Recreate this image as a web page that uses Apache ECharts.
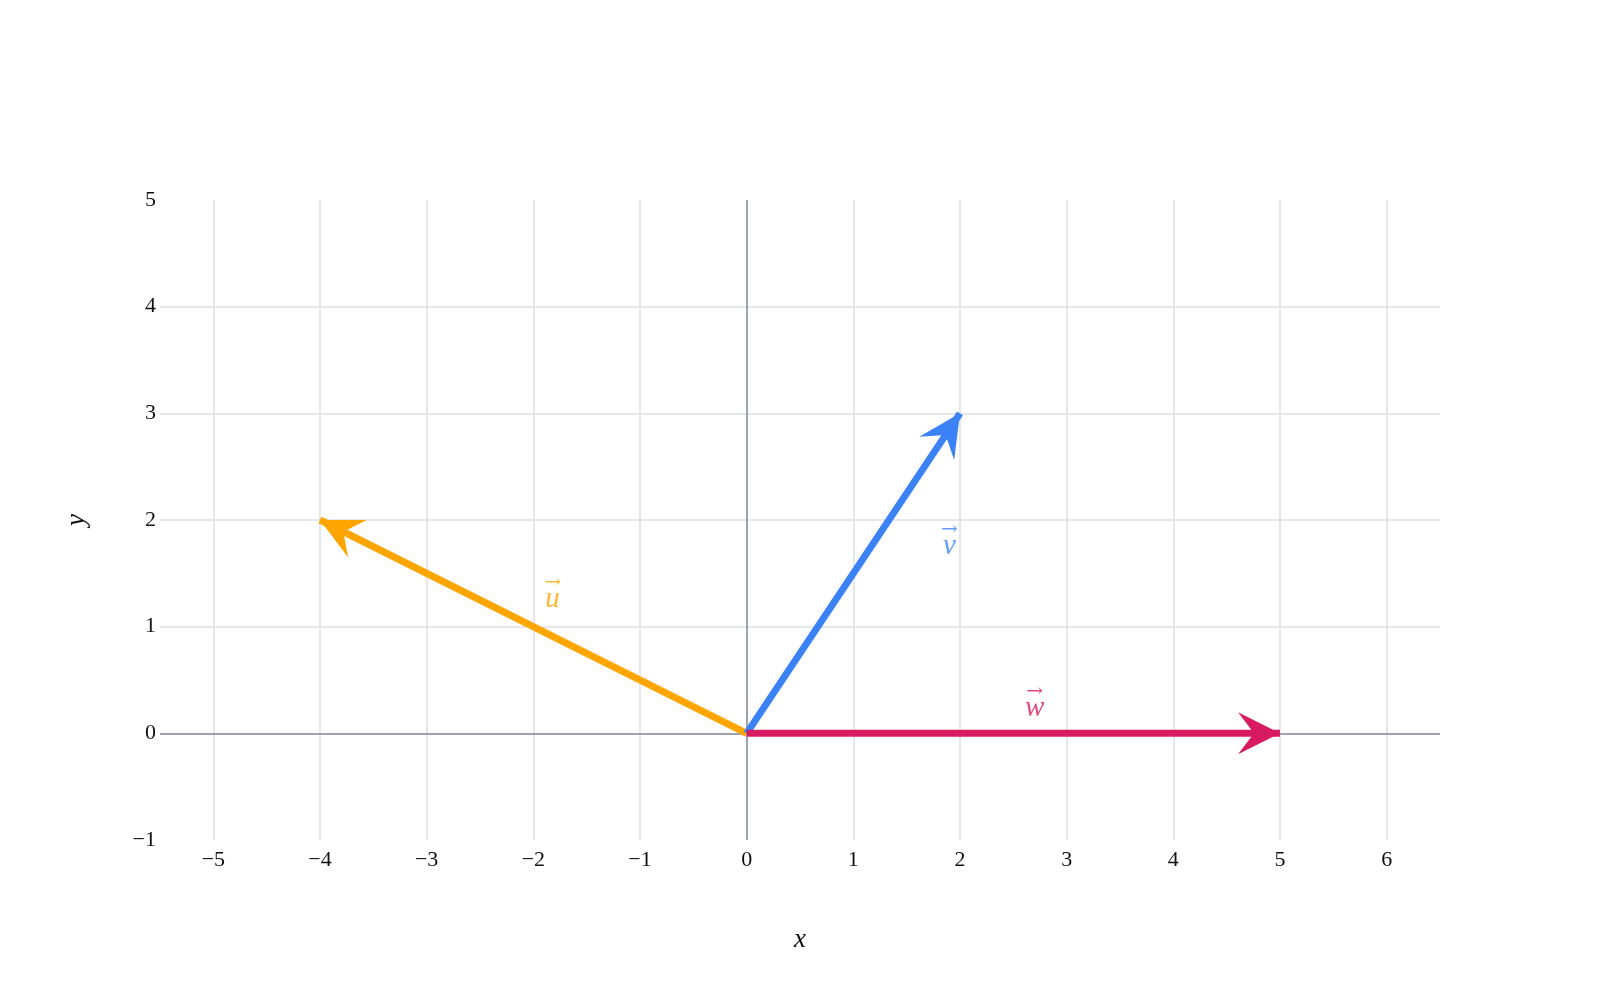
<!DOCTYPE html>
<html lang="en">

<head>
    <meta charset="UTF-8">
    <title>Vectors</title>
    <script src="https://cdn.jsdelivr.net/npm/echarts@6/dist/echarts.min.js"></script>
    <style>
        html, body { margin: 0; padding: 0; background: #fff; }
    </style>
</head>

<body>
    <div id="main" style="width: 1600px;height:1000px;"></div>
    <script type="text/javascript">
        // vectors, all starting at the origin
        var vecNames = ['u', 'v', 'w']
        var vecX = [-4, 2, 5]
        var vecY = [2, 3, 0]
        // where the name labels sit (data units)
        var labelX = [-1.82, 1.9, 2.7]
        var labelY = [1.3, 1.8, 0.28]
        // axis ranges
        var xRange = [-5.5, 6.5]
        var yRange = [-1, 5]

        var colors = ['#ffa500', '#3b82f6', '#d81b60']
        var serif = '"Liberation Serif", "DejaVu Serif", serif'

        var myChart = echarts.init(document.getElementById('main'))

        var tickFmt = v => {
            if (Math.round(v) !== v) return ''
            return v < 0 ? '\u2212' + Math.abs(v) : String(v)
        }

        var arrowData = vecNames.map((n, i) => ({
            value: [0, 0, vecX[i], vecY[i]],
            itemStyle: { color: colors[i] }
        }))

        var labelData = vecNames.map((n, i) => ({
            name: n,
            value: [labelX[i], labelY[i]],
            label: { color: colors[i] }
        }))

        // shaft + barbed head, drawn in pixel space
        var drawArrow = (params, api) => {
            var p0 = api.coord([api.value(0), api.value(1)])
            var p1 = api.coord([api.value(2), api.value(3)])
            var color = api.visual('color')
            var dx = p1[0] - p0[0], dy = p1[1] - p0[1]
            var len = Math.sqrt(dx * dx + dy * dy)
            var ux = dx / len, uy = dy / len
            var nx = -uy, ny = ux
            var L = 42, W = 21, N = 26
            var back = [p1[0] - ux * L, p1[1] - uy * L]
            var inner = [p1[0] - ux * N, p1[1] - uy * N]
            return {
                type: 'group',
                children: [{
                    type: 'line',
                    shape: { x1: p0[0], y1: p0[1], x2: p1[0], y2: p1[1] },
                    style: { stroke: color, lineWidth: 7, lineCap: 'butt' }
                }, {
                    type: 'polygon',
                    shape: {
                        points: [
                            p1,
                            [back[0] + nx * W, back[1] + ny * W],
                            inner,
                            [back[0] - nx * W, back[1] - ny * W]
                        ]
                    },
                    style: { fill: color }
                }]
            }
        }

        var option = {
            animation: false,
            grid: { left: 160, right: 160, top: 200, bottom: 160 },
            xAxis: {
                type: 'value',
                min: xRange[0],
                max: xRange[1],
                splitNumber: 12,
                minInterval: 1,
                maxInterval: 1,
                name: 'x',
                nameLocation: 'middle',
                nameGap: 86,
                nameTextStyle: { fontFamily: serif, fontStyle: 'italic', fontSize: 27, color: '#111' },
                axisLine: { show: false },
                axisTick: { show: false },
                axisLabel: {
                    formatter: tickFmt, fontFamily: serif, fontSize: 22, color: '#111', margin: 9,
                    showMinLabel: false, showMaxLabel: false
                },
                splitLine: { show: true, showMinLine: false, showMaxLine: false, lineStyle: { color: '#e5e7eb', width: 2 } }
            },
            yAxis: {
                type: 'value',
                min: yRange[0],
                max: yRange[1],
                interval: 1,
                name: 'y',
                nameLocation: 'middle',
                nameGap: 70,
                nameRotate: 90,
                nameTextStyle: { fontFamily: serif, fontStyle: 'italic', fontSize: 27, color: '#111' },
                axisLine: { show: false },
                axisTick: { show: false },
                axisLabel: { formatter: tickFmt, fontFamily: serif, fontSize: 22, color: '#111', margin: 4 },
                splitLine: { show: true, showMinLine: false, showMaxLine: false, lineStyle: { color: '#e5e7eb', width: 2 } }
            },
            series: [{
                // zero lines
                type: 'line',
                data: [],
                z: 1,
                markLine: {
                    silent: true,
                    z: 1,
                    symbol: 'none',
                    label: { show: false },
                    lineStyle: { color: '#9ca3af', width: 2, type: 'solid' },
                    data: [{ xAxis: 0 }, { yAxis: 0 }]
                }
            }, {
                type: 'custom',
                z: 3,
                renderItem: drawArrow,
                encode: { x: [0, 2], y: [1, 3] },
                data: arrowData
            }, {
                type: 'scatter',
                z: 4,
                symbolSize: 0,
                data: labelData,
                label: {
                    show: true,
                    position: 'inside',
                    formatter: p => '{a|\u2192}\n{b|' + p.name + '}',
                    rich: {
                        a: { fontSize: 20, lineHeight: 10, fontFamily: '"DejaVu Serif", serif', align: 'center' },
                        b: { fontSize: 29, lineHeight: 24, fontFamily: serif, fontStyle: 'italic', align: 'center' }
                    }
                }
            }]
        }

        myChart.setOption(option)
    </script>
</body>

</html>
